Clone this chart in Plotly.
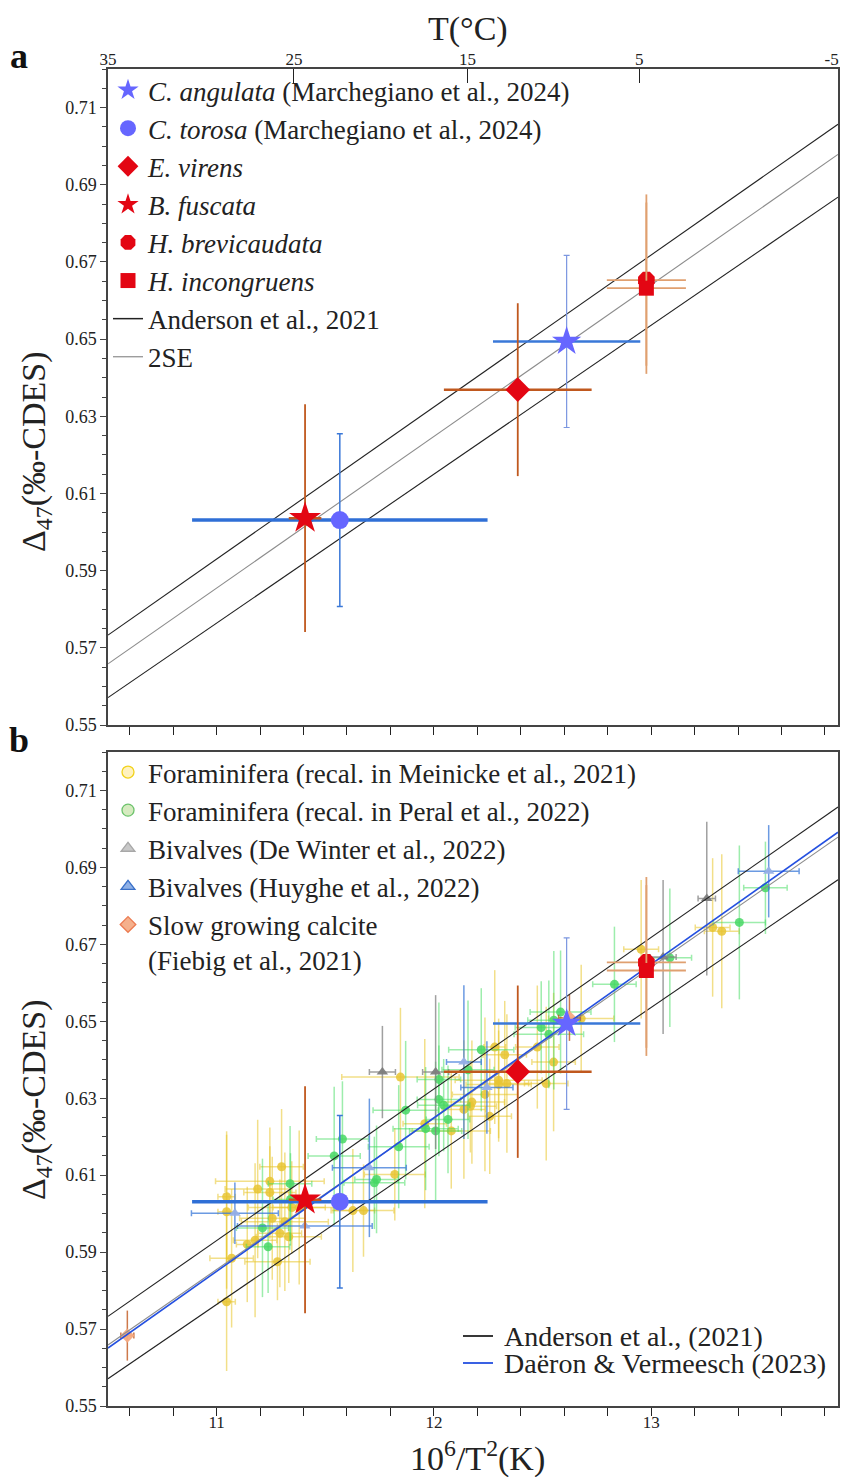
import plotly.graph_objects as go

FONT = "Liberation Serif"

# ---------------- axis settings ----------------
x_range = [10.5, 13.86]
y_range = [0.55, 0.72]
y_ticks = [0.55, 0.57, 0.59, 0.61, 0.63, 0.65, 0.67, 0.69, 0.71]
x_ticks = [11, 12, 13]
top_tick_pos = [10.5, 11.356, 12.155, 12.945, 13.86]   # where the T(°C) labels sit
top_tick_lab = ["35", "25", "15", "5", "-5"]

# ---------------- calibration lines (slope, intercept) ----------------
anderson_center = (0.03929, 0.1533)
anderson_upper = (0.0394, 0.1596)
anderson_lower = (0.0386, 0.1518)
daeron_line = (0.03991, 0.1460)

# ---------------- this study's samples ----------------
sp_names = ["<i>C. angulata</i> (Marchegiano et al., 2024)",
            "<i>C. torosa</i> (Marchegiano et al., 2024)",
            "<i>E. virens</i>", "<i>B. fuscata</i>",
            "<i>H. brevicaudata</i>", "<i>H. incongruens</i>"]
sp_x = [12.611, 11.567, 12.386, 11.407, 12.978, 12.978]
sp_y = [0.6494, 0.6031, 0.6369, 0.6036, 0.6653, 0.6632]
sp_xerr = [0.339, 0.680, 0.340, 0.075, 0.182, 0.182]
sp_yerr = [0.0223, 0.0224, 0.0224, 0.0295, 0.0222, 0.0222]

# ---------------- literature data (panel b) ----------------
mei_x = [11.046, 11.046, 11.299, 11.245, 11.245, 11.189, 11.346, 11.380, 11.256, 11.314,
         11.291, 11.332, 11.177, 11.141, 11.069, 11.280, 11.046, 11.846, 12.280, 12.326,
         12.138, 12.175, 12.168, 12.257, 12.235, 12.298, 12.298, 12.336, 11.958, 12.080,
         11.820, 11.627, 11.676, 12.517, 12.954, 12.678, 12.551, 12.476, 13.283, 13.325]
mei_y = [0.6044, 0.6005, 0.6122, 0.6084, 0.6055, 0.6064, 0.6016, 0.6016, 0.5988, 0.5979,
         0.5949, 0.5940, 0.5931, 0.5920, 0.5884, 0.5875, 0.5771, 0.6355, 0.6433, 0.6413,
         0.6271, 0.6290, 0.6279, 0.6253, 0.6310, 0.6347, 0.6336, 0.6338, 0.6234, 0.6215,
         0.6102, 0.6008, 0.6008, 0.6338, 0.6687, 0.6507, 0.6394, 0.6433, 0.6744, 0.6734]
mei_xerr = [0.04, 0.04, 0.10, 0.25, 0.12, 0.15, 0.20, 0.12, 0.15, 0.20,
            0.10, 0.15, 0.10, 0.05, 0.10, 0.15, 0.04, 0.27, 0.05, 0.10,
            0.10, 0.15, 0.12, 0.10, 0.15, 0.20, 0.15, 0.10, 0.10, 0.18,
            0.14, 0.10, 0.14, 0.10, 0.08, 0.15, 0.10, 0.10, 0.08, 0.08]
mei_yerr = [0.017, 0.020, 0.015, 0.014, 0.012, 0.018, 0.012, 0.020, 0.016, 0.018,
            0.014, 0.012, 0.020, 0.015, 0.018, 0.010, 0.018, 0.018, 0.020, 0.014,
            0.018, 0.016, 0.012, 0.015, 0.020, 0.016, 0.014, 0.018, 0.022, 0.015,
            0.012, 0.016, 0.012, 0.020, 0.018, 0.014, 0.018, 0.016, 0.018, 0.020]

per_x = [11.338, 11.340, 11.211, 11.237, 11.579, 11.541, 12.218, 12.157, 11.870, 12.023,
         12.045, 12.065, 11.962, 12.008, 11.838, 11.736, 11.726, 12.494, 12.023, 12.831,
         12.583, 12.552, 12.529, 13.086, 13.406, 13.526]
per_y = [0.6078, 0.6037, 0.5963, 0.5914, 0.6194, 0.6150, 0.6426, 0.6374, 0.6269, 0.6297,
         0.6282, 0.6245, 0.6221, 0.6215, 0.6174, 0.6089, 0.6080, 0.6484, 0.6349, 0.6596,
         0.6524, 0.6503, 0.6466, 0.6665, 0.6757, 0.6847]
per_xerr = [0.10, 0.08, 0.12, 0.10, 0.12, 0.12, 0.15, 0.12, 0.15, 0.10,
            0.12, 0.10, 0.15, 0.12, 0.14, 0.10, 0.14, 0.12, 0.10, 0.10,
            0.14, 0.12, 0.16, 0.10, 0.12, 0.10]
per_yerr = [0.015, 0.012, 0.018, 0.012, 0.015, 0.018, 0.016, 0.018, 0.018, 0.014,
            0.012, 0.014, 0.016, 0.018, 0.016, 0.014, 0.012, 0.012, 0.020, 0.015,
            0.016, 0.018, 0.014, 0.018, 0.020, 0.012]

dw_x = [11.763, 12.008, 13.055, 13.256]
dw_y = [0.6368, 0.6368, 0.6667, 0.6819]
dw_xerr = [0.06, 0.06, 0.06, 0.04]
dw_yerr = [0.012, 0.020, 0.020, 0.020]

hu_x = [11.084, 11.406, 12.138, 12.244, 11.703, 13.541]
hu_y = [0.6001, 0.5968, 0.6394, 0.6328, 0.6119, 0.6890]
hu_xerr = [0.20, 0.31, 0.08, 0.12, 0.17, 0.14]
hu_yerr = [0.008, 0.005, 0.020, 0.012, 0.018, 0.012]

fi_x = [10.589, 12.624]
fi_y = [0.5683, 0.6509]
fi_xerr = [0.03, 0.05]
fi_yerr = [0.0065, 0.006]

# ---------------- styles ----------------
sp_symbol = ["star", "circle", "diamond", "star", "octagon", "square"]
sp_size = [22, 18, 19, 24, 18, 15]
sp_color = ["#6666ff", "#6666ff", "#e30613", "#e30613", "#e30613", "#e30613"]
sp_ex_col = ["#3a78d8", "#2f6fd6", "#c0581e", "#c0581e", "#e0a070", "#e0a070"]
sp_ey_col = ["#7b96e0", "#3a78d8", "#c0581e", "#c0581e", "#e0a070", "#e0a070"]
sp_ex_th = [2.5, 3.5, 2.5, 2.5, 1.8, 1.8]
sp_ey_th = [1.2, 1.5, 1.8, 1.8, 1.8, 1.8]
sp_ey_w = [3, 3, 0, 0, 0, 0]

# page geometry: the figure div sits 8 px in from the page corner (body margin)
OFF = 8
FW, FH = 849 - OFF, 1477 - OFF
# plot area in page pixels (as measured on the reference)
L, R, T, B = 108, 838, 69, 1406
PW, PH = R - L, B - T


def px(xp):
    return (xp - L) / PW


def py(yp):
    return 1 - (yp - T) / PH


fig = go.Figure()
xs = list(x_range)


def add_lines(xa, ya):
    for (m, c), col in [(anderson_upper, "#222222"), (anderson_lower, "#222222"),
                        (anderson_center, "#8c8c8c")]:
        fig.add_trace(go.Scatter(
            x=xs, y=[m * v + c for v in xs], mode="lines",
            line=dict(color=col, width=1.1), showlegend=False,
            xaxis=xa, yaxis=ya, hoverinfo="skip"))


def add_species(xa, ya, show):
    for i in range(len(sp_x)):
        fig.add_trace(go.Scatter(
            x=[sp_x[i]], y=[sp_y[i]], mode="markers", name=sp_names[i],
            marker=dict(symbol=sp_symbol[i], size=sp_size[i], color=sp_color[i],
                        line=dict(width=0)),
            error_x=dict(type="data", array=[sp_xerr[i]], color=sp_ex_col[i],
                         thickness=sp_ex_th[i], width=0),
            error_y=dict(type="data", array=[sp_yerr[i]], color=sp_ey_col[i],
                         thickness=sp_ey_th[i], width=sp_ey_w[i]),
            showlegend=show, legend="legend", legendgroup="sp%d" % i,
            xaxis=xa, yaxis=ya))


# ---------- panel a ----------
add_lines("x", "y")
add_species("x", "y", True)
fig.add_trace(go.Scatter(x=[None], y=[None], mode="lines", line=dict(color="#222222", width=1.5),
                         name="Anderson et al., 2021", legend="legend", legendgroup="la",
                         xaxis="x", yaxis="y"))
fig.add_trace(go.Scatter(x=[None], y=[None], mode="lines", line=dict(color="#8c8c8c", width=1.2),
                         name="2SE", legend="legend", legendgroup="lb",
                         xaxis="x", yaxis="y"))
fig.add_trace(go.Scatter(x=[None], y=[None], xaxis="x2", yaxis="y", showlegend=False))

# ---------- panel b ----------
groups = [
    (mei_x, mei_y, mei_xerr, mei_yerr, "circle", 9, "rgba(232,196,50,0.85)", "rgba(232,196,40,0.55)"),
    (per_x, per_y, per_xerr, per_yerr, "circle", 9, "rgba(70,215,100,0.85)", "rgba(60,220,90,0.5)"),
    (dw_x, dw_y, dw_xerr, dw_yerr, "triangle-up", 10, "rgba(125,125,125,0.95)", "rgba(128,128,128,0.75)"),
    (hu_x, hu_y, hu_xerr, hu_yerr, "triangle-up", 10, "rgba(150,175,230,0.95)", "rgba(58,120,216,0.75)"),
    (fi_x, fi_y, fi_xerr, fi_yerr, "diamond", 11, "rgba(244,170,130,0.95)", "rgba(192,88,30,0.8)"),
]
for gx, gy, gxe, gye, sym, sz, col, ecol in groups:
    fig.add_trace(go.Scatter(
        x=gx, y=gy, mode="markers",
        marker=dict(symbol=sym, size=sz, color=col, line=dict(width=0)),
        error_x=dict(type="data", array=gxe, color=ecol, thickness=1.5, width=3),
        error_y=dict(type="data", array=gye, color=ecol, thickness=1.5, width=0),
        showlegend=False, xaxis="x3", yaxis="y2"))

add_lines("x3", "y2")
fig.add_trace(go.Scatter(
    x=xs, y=[daeron_line[0] * v + daeron_line[1] for v in xs], mode="lines",
    line=dict(color="#2450e0", width=1.6), showlegend=False,
    xaxis="x3", yaxis="y2", hoverinfo="skip"))
add_species("x3", "y2", False)

leg2 = [
    ("Foraminifera (recal. in Meinicke et al., 2021)", "circle", "#fff2bf", "#f2d21c"),
    ("Foraminifera (recal. in Peral et al., 2022)", "circle", "#d6ebc0", "#6cc36c"),
    ("Bivalves (De Winter et al., 2022)", "triangle-up", "#c8c8c8", "#a8a8a8"),
    ("Bivalves (Huyghe et al., 2022)", "triangle-up", "#8fb0e6", "#3a70c8"),
    ("Slow growing calcite<br>(Fiebig et al., 2021)", "diamond", "#f5b08c", "#ec7a50"),
]
for k, (nm, sym, fc, lc) in enumerate(leg2):
    fig.add_trace(go.Scatter(x=[None], y=[None], mode="markers", name=nm,
                             marker=dict(symbol=sym, size=12, color=fc, line=dict(color=lc, width=1.3)),
                             legend="legend2", legendgroup="g%d" % k, xaxis="x3", yaxis="y2"))

# ---------------- layout ----------------
axis_line = dict(showline=True, linecolor="#444444", linewidth=1.5, mirror=True,
                 showgrid=False, zeroline=False, automargin=False)

ycommon = dict(range=y_range, tickmode="array", tickvals=y_ticks,
               ticktext=["%.2f" % v for v in y_ticks], ticks="outside", ticklen=6,
               tickcolor="#444444", tickfont=dict(family=FONT, size=18, color="#222222"),
               minor=dict(tick0=0.55, dtick=0.005, ticks="outside", ticklen=4, tickcolor="#444444"),
               **axis_line)
xcommon = dict(range=x_range, tickmode="array", tickvals=x_ticks, ticks="outside", ticklen=8,
               tickcolor="#222222", tickwidth=1.3,
               tickfont=dict(family=FONT, size=17, color="#222222"),
               minor=dict(tick0=10.0, dtick=0.2, ticks="outside", ticklen=8, tickcolor="#222222"),
               **axis_line)

bot_a = py(725)
top_b = py(752)

# last top label sits at the frame edge: pad it so it stays inside the page
top_text = [t if i < len(top_tick_lab) - 1 else t + "&nbsp;&nbsp;&nbsp;"
            for i, t in enumerate(top_tick_lab)]

ann = []
title_font = dict(family=FONT, size=34, color="#222222")
ann.append(dict(text="T(°C)", x=px(468), y=py(29), font=title_font))
ann.append(dict(text="10<sup>6</sup>/T<sup>2</sup>(K)", x=px(477), y=py(1456), font=title_font))
ann.append(dict(text="Δ<sub>47</sub>(‰-CDES)", x=px(36), y=py(452), textangle=-90, font=title_font))
ann.append(dict(text="Δ<sub>47</sub>(‰-CDES)", x=px(36), y=py(1100), textangle=-90, font=title_font))
ann.append(dict(text="<b>a</b>", x=px(19), y=py(56), font=dict(family=FONT, size=36, color="#111111")))
ann.append(dict(text="<b>b</b>", x=px(19), y=py(740), font=dict(family=FONT, size=36, color="#111111")))
leg3 = [("Anderson et al., (2021)", "#222222", 1336), ("Daëron & Vermeesch (2023)", "#2450e0", 1363)]
shapes = []
for txt, col, yy in leg3:
    ann.append(dict(text=txt, x=px(502), y=py(yy), xanchor="left",
                    font=dict(family=FONT, size=28, color="#222222")))
    shapes.append(dict(type="line", xref="paper", yref="paper", x0=px(463), x1=px(493),
                       y0=py(yy), y1=py(yy), line=dict(color=col, width=1.8)))
for a in ann:
    a.setdefault("xref", "paper")
    a.setdefault("yref", "paper")
    a.setdefault("showarrow", False)
    a.setdefault("xanchor", "center")
    a.setdefault("yanchor", "middle")

fig.update_layout(
    width=FW, height=FH,
    margin=dict(l=L - OFF, r=FW + OFF - R, t=T - OFF, b=FH + OFF - B),
    paper_bgcolor="white", plot_bgcolor="white",
    font=dict(family=FONT, color="#222222"),
    showlegend=True,
    xaxis=dict(domain=[0, 1], anchor="y", showticklabels=False, **xcommon),
    xaxis2=dict(overlaying="x", side="top", anchor="y", range=x_range,
                tickmode="array", tickvals=top_tick_pos, ticktext=top_text,
                ticks="inside", ticklen=14, tickcolor="#222222", tickwidth=1.3,
                tickfont=dict(family=FONT, size=17, color="#222222"),
                ticklabeloverflow="allow",
                showline=False, showgrid=False, zeroline=False, automargin=False),
    yaxis=dict(domain=[bot_a, 1], anchor="x", **ycommon),
    xaxis3=dict(domain=[0, 1], anchor="y2", ticklabelstandoff=-8, **xcommon),
    yaxis2=dict(domain=[0, top_b], anchor="x3", **ycommon),
    legend=dict(x=0.0, y=py(66), xanchor="left", yanchor="top", bgcolor="rgba(0,0,0,0)",
                font=dict(family=FONT, size=27, color="#222222"), traceorder="grouped",
                tracegroupgap=0, itemsizing="trace"),
    legend2=dict(x=0.0, y=py(748), xanchor="left", yanchor="top", bgcolor="rgba(0,0,0,0)",
                 font=dict(family=FONT, size=27, color="#222222"), traceorder="grouped",
                 tracegroupgap=0, valign="top"),
    annotations=ann,
    shapes=shapes,
)

fig.write_html("out.html")
